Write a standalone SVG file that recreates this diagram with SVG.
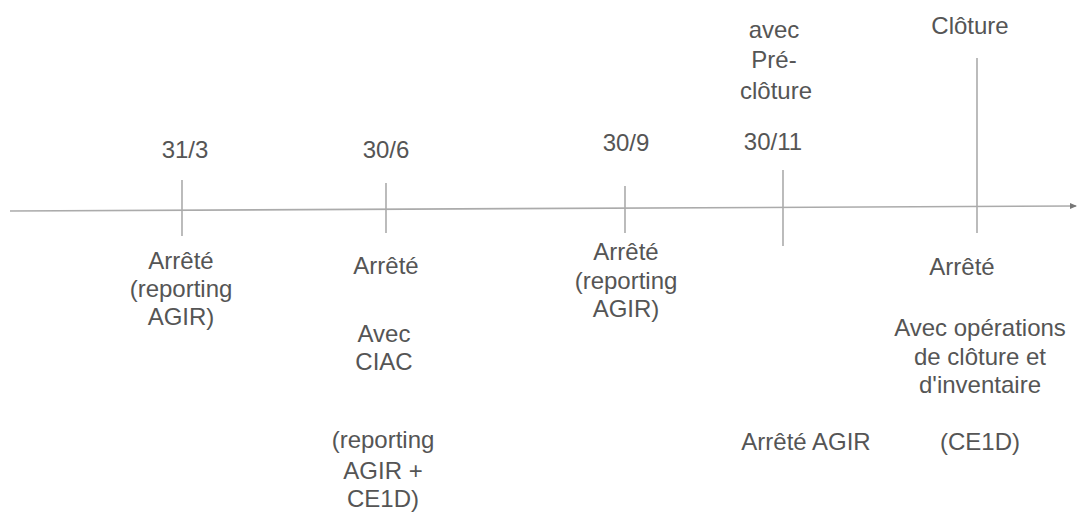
<svg xmlns="http://www.w3.org/2000/svg" width="1080" height="519" viewBox="0 0 1080 519">
<style>
text{font-family:"Liberation Sans",Arial,sans-serif;font-size:24px;fill:#555;text-anchor:middle}
.l{stroke:#ababab;stroke-width:1.6;fill:none}
</style>
<defs><marker id="ar" markerWidth="8" markerHeight="8" refX="6" refY="4" orient="auto" markerUnits="userSpaceOnUse"><path d="M0,1 L7,4 L0,7 z" fill="#777"/></marker></defs>
<rect width="1080" height="519" fill="#fff"/>
<g id="connectors">
<line class="l" x1="10" y1="211" x2="1076" y2="206" marker-end="url(#ar)"/>
<line class="l" x1="182" y1="180" x2="182" y2="236"/>
<line class="l" x1="386" y1="183" x2="386" y2="233"/>
<line class="l" x1="625" y1="186" x2="625" y2="233"/>
<line class="l" x1="783" y1="170" x2="783" y2="246"/>
<line class="l" x1="977" y1="58" x2="977" y2="233"/>
</g>
<g id="d313"><text x="185" y="158">31/3</text><text x="181" y="269">Arrêté</text><text x="181" y="297">(reporting</text><text x="181" y="325">AGIR)</text></g>
<g id="d306"><text x="386" y="158">30/6</text><text x="386" y="274">Arrêté</text><text x="384" y="342">Avec</text><text x="384" y="370">CIAC</text><text x="383" y="448">(reporting</text><text x="383" y="479">AGIR +</text><text x="383" y="507">CE1D)</text></g>
<g id="d309"><text x="626" y="151">30/9</text><text x="626" y="260">Arrêté</text><text x="626" y="289">(reporting</text><text x="626" y="317">AGIR)</text></g>
<g id="d3011"><text x="774" y="38">avec</text><text x="774" y="68">Pré-</text><text x="776" y="99">clôture</text><text x="773" y="150">30/11</text><text x="806" y="450">Arrêté AGIR</text></g>
<g id="cloture"><text x="970" y="34">Clôture</text><text x="962" y="275">Arrêté</text><text x="980" y="336">Avec opérations</text><text x="980" y="365">de clôture et</text><text x="980" y="393">d'inventaire</text><text x="980" y="450">(CE1D)</text></g>
</svg>
